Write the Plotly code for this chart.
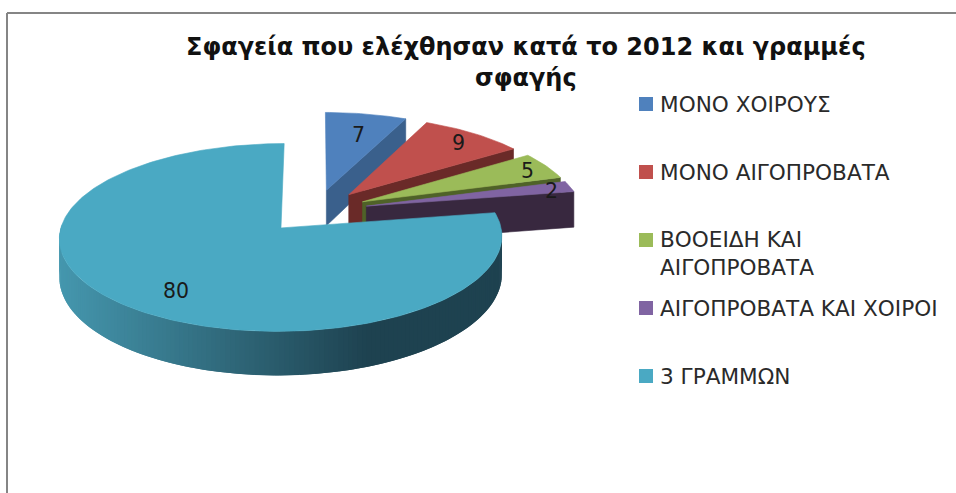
import math
import plotly.graph_objects as go

categories = ["ΜΟΝΟ ΧΟΙΡΟΥΣ", "ΜΟΝΟ ΑΙΓΟΠΡΟΒΑΤΑ", "ΒΟΟΕΙΔΗ ΚΑΙ<br>ΑΙΓΟΠΡΟΒΑΤΑ", "ΑΙΓΟΠΡΟΒΑΤΑ ΚΑΙ ΧΟΙΡΟΙ", "3 ΓΡΑΜΜΩΝ"]
values = [7, 9, 5, 2, 80]
title = "Σφαγεία που ελέχθησαν κατά το 2012 και γραμμές<br>σφαγής"
top_colors = ["#4F81BD", "#C0504D", "#9BBB59", "#8064A2", "#4AA9C3"]
side_colors = ["#3A608C", "#6A2A28", "#4F6228", "#38283F", "#1E4250"]
label_radius = [0.71, 0.85, 0.89, 0.90, 0.77]
label_turn = [1.2, 1.0, 0.8, 1.7, -5.7]
legend_y = [104, 172, 240, 308, 376]

CX, CY, RX, RY = 315.5, 211, 216, 89.5
K, KD, DEPTH, EXPLODE = 0.10, 0.14, 36.7, 0.243


def project(u, v, drop=0.0):
    w = 1 + K * v
    return CX + RX * u / w, CY - RY * v / w + drop * DEPTH / (1 + KD * v)


def mix(a, b, t):
    pa = [int(a[i:i + 2], 16) for i in (1, 3, 5)]
    pb = [int(b[i:i + 2], 16) for i in (1, 3, 5)]
    return "rgb(%d,%d,%d)" % tuple(round(p + (q - p) * t) for p, q in zip(pa, pb))


fig = go.Figure()


def poly(pts, color, name="", width=0.6):
    fig.add_trace(go.Scatter(
        x=[p[0] for p in pts] + [pts[0][0]], y=[p[1] for p in pts] + [pts[0][1]],
        mode="lines", fill="toself", fillcolor=color,
        line=dict(color=color, width=width), hoverinfo="skip", showlegend=False, name=name))


total = sum(values)
start = 0.0
labels = []
for i, val in enumerate(values):
    a0 = start / total * 2 * math.pi
    a1 = (start + val) / total * 2 * math.pi
    start += val
    mid = (a0 + a1) / 2
    ou, ov = EXPLODE * math.sin(mid), EXPLODE * math.cos(mid)
    n = max(8, int(val * 3))
    arc = [a0 + (a1 - a0) * j / n for j in range(n + 1)]
    rim = [(ou + math.sin(t), ov + math.cos(t)) for t in arc]
    if val < 50:
        # visible cut face at the clockwise end of the wedge
        end = rim[-1]
        poly([project(ou, ov), project(*end), project(*end, 1), project(ou, ov, 1)], side_colors[i])
    else:
        # outer wall with its left-to-right shading; strips overlap so no seams show
        for j in range(n):
            t0 = arc[j]
            if math.cos(t0) > 0.02:
                continue
            p, q = rim[j], rim[min(j + 2, n)]
            x_mid = project(*rim[j])[0]
            f = min(1.0, max(0.0, (x_mid - 60) / 310))
            poly([project(*p), project(*q), project(*q, 1), project(*p, 1)],
                 mix("#4597AE", side_colors[i], f), width=0)
    poly([project(ou, ov)] + [project(*r) for r in rim], top_colors[i], categories[i])
    t = mid + math.radians(label_turn[i])
    lx, ly = project(ou + label_radius[i] * math.sin(t), ov + label_radius[i] * math.cos(t))
    labels.append((lx, ly, str(val)))

# legend swatches
fig.add_trace(go.Scatter(
    x=[646] * len(categories), y=legend_y, mode="markers",
    marker=dict(symbol="square", size=14, color=top_colors), hoverinfo="skip", showlegend=False))

anns = [dict(x=x, y=y, text=s, showarrow=False, font=dict(family="DejaVu Sans", size=20.5, color="#1a1a1a"),
             xanchor="center", yanchor="middle") for x, y, s in labels]
for name, y in zip(categories, legend_y):
    two = "<br>" in name
    anns.append(dict(x=658, y=y, text=name, showarrow=False, align="left", xanchor="left",
                     yanchor="top" if two else "middle", yshift=15 if two else 0,
                     font=dict(family="DejaVu Sans", size=21.6, color="#2a2a2a")))
anns.append(dict(x=526, y=62, text=title, showarrow=False, align="center", xanchor="center", yanchor="middle",
                 font=dict(family="DejaVu Sans", size=24, color="#111111", weight="bold")))

fig.update_layout(
    width=956, height=493, margin=dict(l=0, r=0, t=0, b=0),
    paper_bgcolor="white", plot_bgcolor="white", showlegend=False, annotations=anns,
    xaxis=dict(range=[0, 956], visible=False, fixedrange=True),
    yaxis=dict(range=[493, 0], visible=False, fixedrange=True),
    shapes=[
        dict(type="line", x0=7, x1=7, y0=13, y1=493, line=dict(color="#858585", width=2)),
        dict(type="line", x0=7, x1=956, y0=13, y1=13, line=dict(color="#858585", width=2)),
    ],
)
fig.write_html("out.html", post_script="document.body.style.margin='0';", config=dict(displayModeBar=False))
